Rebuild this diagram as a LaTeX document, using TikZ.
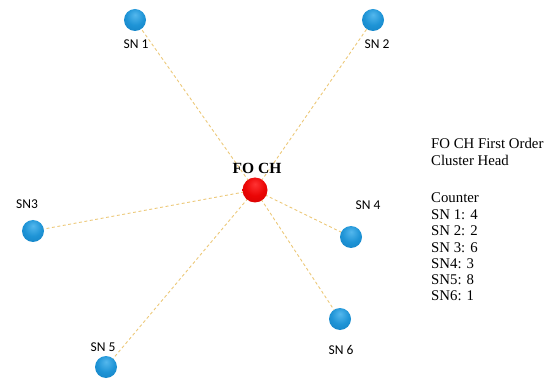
\documentclass[tikz,border=0pt]{standalone}
\usepackage{fontspec}
\setmainfont{Liberation Serif}
\newfontfamily\labelfont{Carlito}
\definecolor{linkcol}{RGB}{236,200,120}
% soft spheres, lit from above
\pgfdeclareradialshading{bluesphere}{\pgfpoint{0bp}{12bp}}{%
  rgb(0bp)=(0.33,0.72,0.93); rgb(20bp)=(0.12,0.58,0.84); rgb(45bp)=(0.06,0.48,0.74); rgb(70bp)=(0.04,0.40,0.64)}
\pgfdeclareradialshading{redsphere}{\pgfpoint{0bp}{12bp}}{%
  rgb(0bp)=(1,0.2,0.2); rgb(20bp)=(0.92,0.02,0.02); rgb(45bp)=(0.80,0,0); rgb(70bp)=(0.65,0,0)}
\begin{document}
\begin{tikzpicture}[x=1pt,y=-1pt,
  sensor/.style={circle,minimum size=22pt,inner sep=0pt,shading=bluesphere},
  head/.style={circle,minimum size=25pt,inner sep=0pt,shading=redsphere},
  link/.style={draw=linkcol,line width=0.9pt,dash pattern=on 3pt off 2.5pt},
  snlabel/.style={font=\labelfont\fontsize{13.5}{15}\selectfont,inner sep=0pt},
  legend/.style={font=\fontsize{14.8}{16}\selectfont,anchor=base west,inner sep=0pt}]
  \useasboundingbox (0,0) rectangle (559,379);

  % cluster head and sensor nodes
  \coordinate (ch) at (255,190);
  \coordinate (s1) at (135,20);
  \coordinate (s2) at (373,20);
  \coordinate (s3) at (33,231);
  \coordinate (s4) at (351,237);
  \coordinate (s5) at (106,367);
  \coordinate (s6) at (340,319);

  % links from the cluster head
  \foreach \s in {s1,s2,s3,s4,s5,s6}
    \draw[link] (ch) -- (\s);

  \node[head] (nch) at (ch) {};
  \foreach \s in {s1,s2,s3,s4,s5,s6}
    \node[sensor] (n\s) at (\s) {};

  % labels
  \node[font=\bfseries\fontsize{15.5}{17}\selectfont,inner sep=0pt] (lch) at (257,168) {FO CH};
  \node[snlabel] (l1) at (136,44) {SN 1};
  \node[snlabel] (l2) at (377,44) {SN 2};
  \node[snlabel] (l3) at (27,204) {SN3};
  \node[snlabel] (l4) at (368,205) {SN 4};
  \node[snlabel] (l5) at (103,347) {SN 5};
  \node[snlabel] (l6) at (341,350) {SN 6};

  % legend
  \node[legend] (g1) at (431,149) {FO CH First Order};
  \node[legend] (g2) at (431,166) {Cluster Head};
  \node[legend] (g3) at (431,203) {Counter};
  \node[legend] (g4) at (431,219.5) {SN 1: 4};
  \node[legend] (g5) at (431,236) {SN 2: 2};
  \node[legend] (g6) at (431,252) {SN 3: 6};
  \node[legend] (g7) at (431,268) {SN4: 3};
  \node[legend] (g8) at (431,284) {SN5: 8};
  \node[legend] (g9) at (431,300) {SN6: 1};
\end{tikzpicture}
\end{document}
